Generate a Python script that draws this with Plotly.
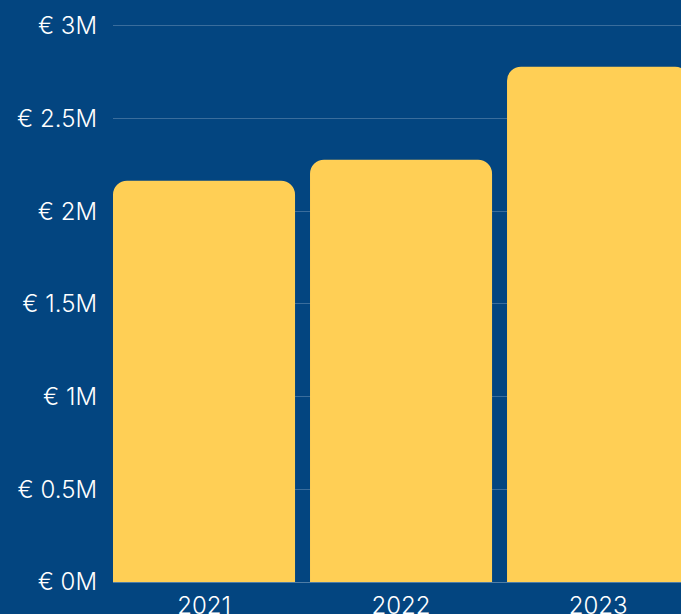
import plotly.graph_objects as go

years = ["2021", "2022", "2023"]
revenue = [2.164e6, 2.277e6, 2.779e6]
tick_vals = [0, 0.5e6, 1e6, 1.5e6, 2e6, 2.5e6, 3e6]
tick_text = ["€ 0M", "€ 0.5M", "€ 1M", "€ 1.5M", "€ 2M", "€ 2.5M", "€ 3M"]

BG = "#034580"
BAR = "#FFCF55"

fig = go.Figure(go.Bar(
    x=years, y=revenue,
    marker=dict(color=BAR, line=dict(width=0), cornerradius=14),
))
fig.update_layout(
    width=681, height=614,
    paper_bgcolor=BG, plot_bgcolor=BG,
    margin=dict(l=113, r=0, t=22, b=32),
    bargap=0.076,
    showlegend=False,
    font=dict(family="Inter", color="white", size=24, weight=300),
)
fig.update_xaxes(
    type="category", range=[-0.462, 2.421], automargin=False,
    showgrid=False, showline=False, ticks="",
    tickfont=dict(size=24, weight=300), ticklabelstandoff=7,
)
fig.update_yaxes(
    range=[0, 3.02e6], tickvals=tick_vals, ticktext=tick_text, automargin=False,
    showgrid=True, gridcolor="rgba(255,255,255,0.22)", gridwidth=1,
    zeroline=True, zerolinecolor="rgba(255,255,255,0.3)", zerolinewidth=1,
    ticks="", ticklabelstandoff=15, tickfont=dict(size=24, weight=300),
)
fig.write_html(
    "out.html",
    config={"displayModeBar": False},
    post_script="document.body.style.margin='0';document.body.style.overflow='hidden';document.body.style.background='%s';" % BG,
)
